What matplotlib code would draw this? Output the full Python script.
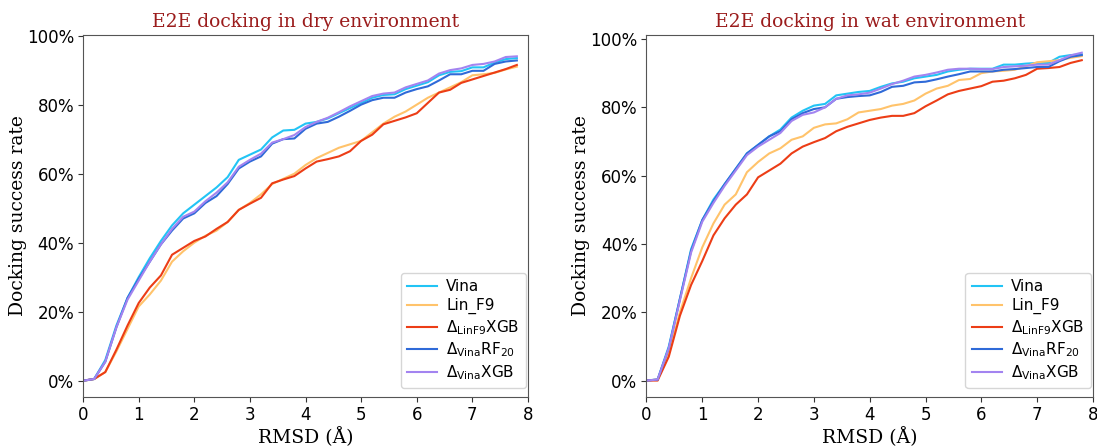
import numpy as np
import matplotlib
matplotlib.use("Agg")
from matplotlib import pyplot as plt
from matplotlib.ticker import PercentFormatter

rmsd = np.round(np.arange(0, 7.81, 0.2), 1)  # 40 cutoffs

# success rates (%), dry environment
dry_vina = [0, 0.5, 6, 16, 24, 30, 35.5, 40.5, 45, 48.5, 51, 53.5, 56, 59, 64, 65.5, 67, 70.5, 72.5, 72.7,
            74.5, 75, 76, 77.5, 79, 80.5, 82, 82.8, 83, 84.5, 85.5, 86.5, 88.5, 89.5, 89.7, 90.8, 90.8, 92.2, 93.2, 93.5]
dry_linf9 = [0, 0.5, 2.5, 8.5, 15, 21.5, 25, 29, 34.5, 37.5, 40, 42, 43.5, 46, 49.5, 51.5, 54, 57, 58.5, 60,
             62.5, 64.5, 66, 67.5, 68.5, 69.5, 72, 74.5, 76.5, 78, 80, 82, 83.5, 85, 86.5, 88.5, 88.8, 89.2, 90.2, 91]
dry_dlinf9xgb = [0, 0.5, 2.5, 9, 16, 22.5, 27, 30.5, 36.5, 38.5, 40.5, 41.8, 44, 46, 49.5, 51.3, 53, 57.2, 58.3, 59.3,
                 61.5, 63.5, 64.2, 65, 66.5, 69.5, 71.3, 74.3, 75.3, 76.3, 77.5, 80.5, 83.5, 84.3, 86.3, 87.3, 88.3, 89.3, 90.3, 91.5]
dry_dvinarf20 = [0, 0.5, 5.5, 15.5, 24, 29.5, 34.5, 39.5, 43.5, 47, 48.5, 51.5, 53.5, 57, 61.5, 63.5, 65, 68.7, 70, 70.2,
                 73, 74.5, 75, 76.5, 78.2, 80, 81.3, 82, 82, 83.5, 84.5, 85.3, 87, 88.8, 88.8, 89.8, 89.8, 91.8, 92.5, 92.8]
dry_dvinaxgb = [0, 0.5, 5.5, 15.5, 23.5, 29, 34.5, 39.5, 44, 47.5, 49, 52, 54.5, 57.5, 62, 64, 65.8, 69, 70, 71.2,
                73.5, 75, 76.2, 77.8, 79.5, 81, 82.5, 83.2, 83.5, 85, 86, 87, 89, 90, 90.5, 91.5, 91.8, 92.5, 93.8, 94]

# wat environment
wat_vina = [0, 0.3, 10, 24, 38.5, 47, 53, 57.5, 62, 66.5, 69, 71.5, 73.5, 77, 79, 80.5, 81, 83.5, 84, 84.5,
            84.8, 86, 87, 87.5, 88.5, 89, 89.5, 90.5, 91, 91.3, 91.3, 91.3, 92.5, 92.5, 92.8, 93, 93, 94.8, 95.3, 95.5]
wat_linf9 = [0, 0.3, 8, 20, 30, 39, 46, 51.5, 54.5, 61, 64, 66.5, 68, 70.5, 71.5, 74, 75, 75.3, 76.5, 78.5,
             79, 79.5, 80.5, 81, 82, 84, 85.5, 86.3, 88, 88.3, 90, 90.5, 90.7, 91, 92, 93.2, 93.5, 93.8, 94.5, 95]
wat_dlinf9xgb = [0, 0, 7, 19, 28, 35, 42.5, 47.5, 51.5, 54.5, 59.5, 61.5, 63.5, 66.5, 68.5, 69.8, 71, 73, 74.3, 75.3,
                 76.3, 77, 77.5, 77.5, 78.3, 80.3, 82, 83.8, 84.8, 85.5, 86.2, 87.5, 87.8, 88.5, 89.5, 91.3, 91.5, 91.8, 93, 93.8]
wat_dvinarf20 = [0, 0.3, 9.5, 24, 38, 47, 52.5, 57.5, 62, 66.5, 69, 71.5, 73, 76.5, 78.3, 79.5, 80, 82.5, 83, 83.3,
                 83.5, 84.5, 86, 86.3, 87.3, 87.5, 88.2, 89, 89.7, 90.5, 90.5, 90.5, 91, 91.2, 91.5, 91.8, 91.8, 93.5, 94.8, 95.3]
wat_dvinaxgb = [0, 0.3, 9.5, 23.5, 37.5, 46.5, 52, 57, 61.5, 66, 68.5, 70.5, 72.5, 76, 77.8, 78.5, 80, 82.5, 83.5, 83.8,
                84.3, 85.5, 86.8, 87.8, 89, 89.5, 90.2, 91, 91.3, 91.3, 91.2, 91.2, 91.8, 92, 92.2, 92.5, 92.5, 93.8, 95.2, 96]

labels = ['Vina', 'Lin_F9', r'$\Delta_{\rm LinF9}$XGB', r'$\Delta_{\rm Vina}$RF$_{20}$', r'$\Delta_{\rm Vina}$XGB']
colors = ['#22c4f5', '#ffc36b', '#ec3d16', '#2f6ad8', '#a384f0']

panels = [
    ('E2E docking in dry environment', [dry_vina, dry_linf9, dry_dlinf9xgb, dry_dvinarf20, dry_dvinaxgb], (-4.7, 100.2)),
    ('E2E docking in wat environment', [wat_vina, wat_linf9, wat_dlinf9xgb, wat_dvinarf20, wat_dvinaxgb], (-4.8, 101.2)),
]

fig = plt.figure(figsize=(10.97, 4.46), dpi=100)
axes = [fig.add_axes([0.0757, 0.110, 0.4056, 0.8117]),
        fig.add_axes([0.5893, 0.110, 0.4070, 0.8117])]

for ax, (title, series, ylim) in zip(axes, panels):
    for ys, lab, c in zip(series, labels, colors):
        ax.plot(rmsd, ys, color=c, lw=1.5, label=lab)
    ax.set_xlim(0, 8)
    ax.set_ylim(*ylim)
    ax.set_yticks([0, 20, 40, 60, 80, 100])
    ax.yaxis.set_major_formatter(PercentFormatter(decimals=0))
    ax.tick_params(labelsize=12, color='#333333', pad=3)
    for sp in ax.spines.values():
        sp.set_color('#555555')
    ax.set_title(title, family='DejaVu Serif', fontsize=13.5, color='#9b1c1c', pad=6)
    ax.set_xlabel('RMSD (Å)', family='DejaVu Serif', fontsize=13.5, labelpad=2)
    ax.set_ylabel('Docking success rate', family='DejaVu Serif', fontsize=13.5, labelpad=0)
    ax.legend(loc='lower right', bbox_to_anchor=(0.995, 0.025), borderaxespad=0, fontsize=11,
              handlelength=2.0, handletextpad=0.6, labelspacing=0.25)

fig.savefig('out.png', dpi=100)
